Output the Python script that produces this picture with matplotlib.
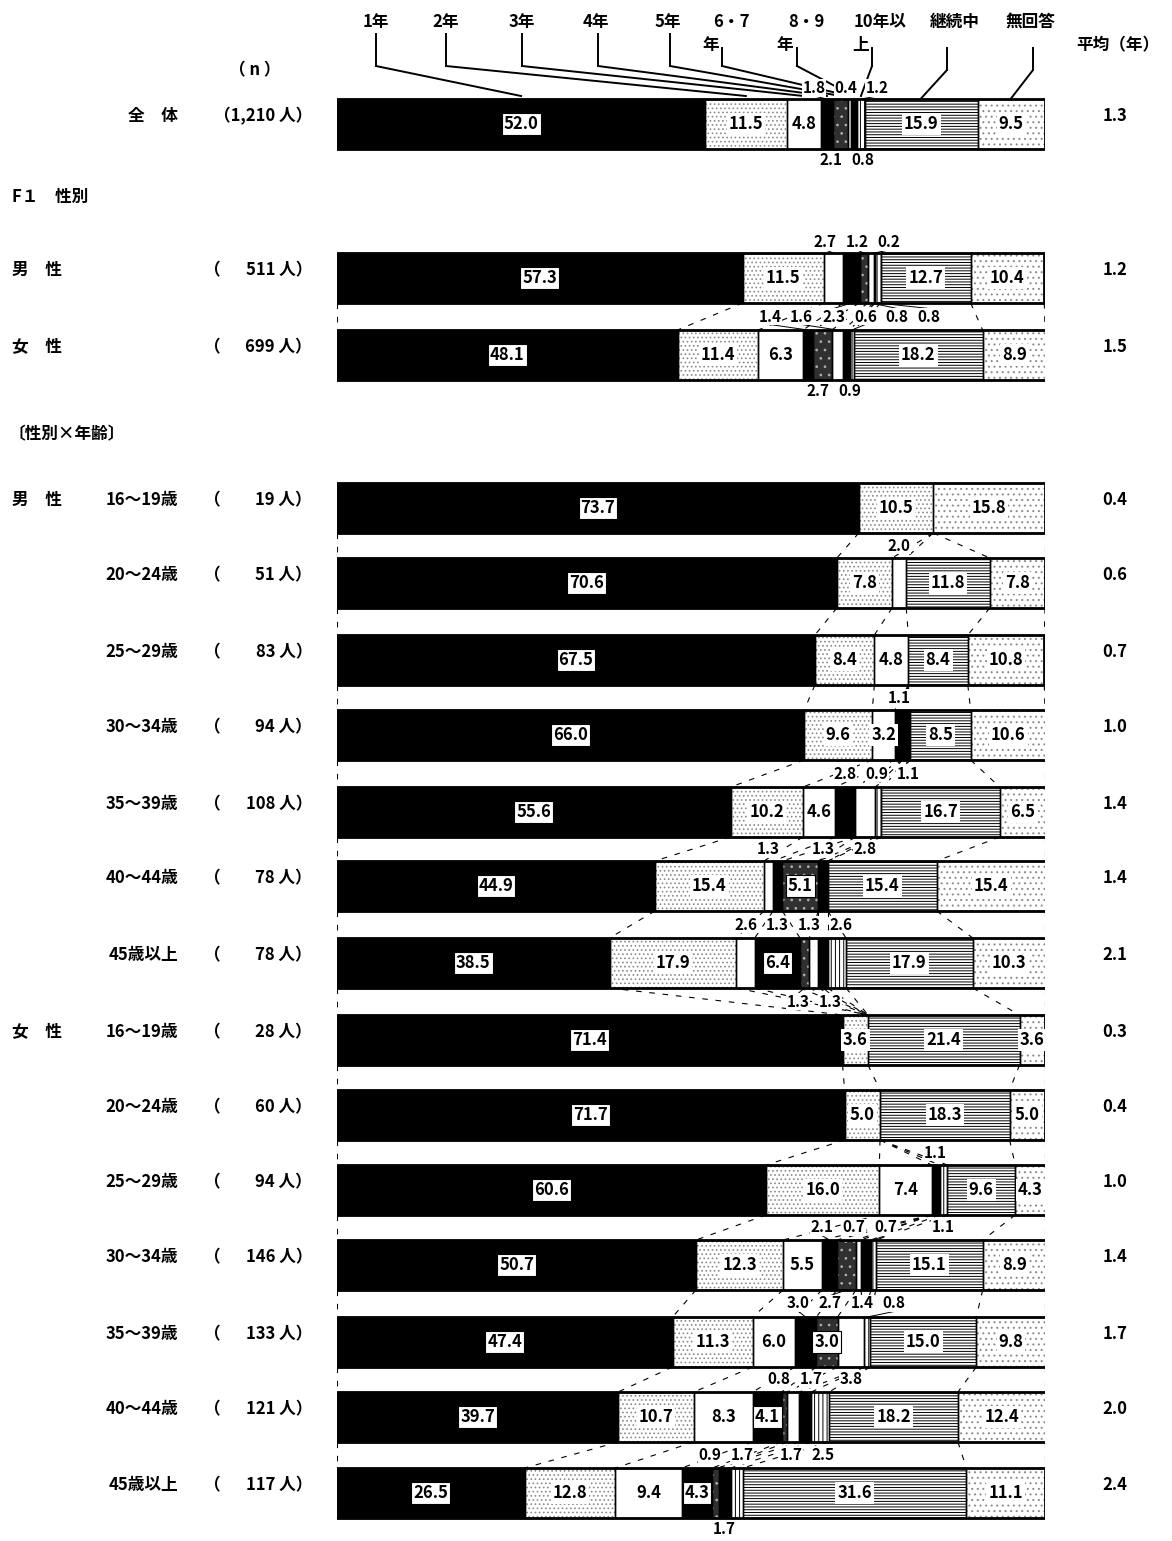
import matplotlib
matplotlib.use('Agg')
import matplotlib.pyplot as plt
import numpy as np
from collections import defaultdict

plt.rcParams['font.family'] = ['Noto Sans CJK JP', 'DejaVu Sans']
plt.rcParams['hatch.linewidth'] = 0.7

# ---------------- data ----------------
categories = ['1年', '2年', '3年', '4年', '5年', '6・7年', '8・9年', '10年以上', '継続中', '無回答']

zentai = [52.0, 11.5, 4.8, 1.8, 2.1, 0.4, 0.8, 1.2, 15.9, 9.5]
male = [57.3, 11.5, 2.7, 2.3, 1.2, 0.8, 0.2, 0.8, 12.7, 10.4]
female = [48.1, 11.4, 6.3, 1.4, 2.7, 1.6, 0.9, 0.6, 18.2, 8.9]
m_16_19 = [73.7, 10.5, 0, 0, 0, 0, 0, 0, 0, 15.8]
m_20_24 = [70.6, 7.8, 2.0, 0, 0, 0, 0, 0, 11.8, 7.8]
m_25_29 = [67.5, 8.4, 4.8, 0, 0, 0, 0, 0, 8.4, 10.8]
m_30_34 = [66.0, 9.6, 3.2, 1.1, 0, 0, 1.1, 0, 8.5, 10.6]
m_35_39 = [55.6, 10.2, 4.6, 2.8, 0, 2.8, 0, 0.9, 16.7, 6.5]
m_40_44 = [44.9, 15.4, 1.3, 1.3, 5.1, 0, 1.3, 0, 15.4, 15.4]
m_45 = [38.5, 17.9, 2.6, 6.4, 1.3, 1.3, 1.3, 2.6, 17.9, 10.3]
f_16_19 = [71.4, 3.6, 0, 0, 0, 0, 0, 0, 21.4, 3.6]
f_20_24 = [71.7, 5.0, 0, 0, 0, 0, 0, 0, 18.3, 5.0]
f_25_29 = [60.6, 16.0, 7.4, 0, 0, 0, 1.1, 1.1, 9.6, 4.3]
f_30_34 = [50.7, 12.3, 5.5, 2.1, 2.7, 0.7, 1.4, 0.7, 15.1, 8.9]
f_35_39 = [47.4, 11.3, 6.0, 3.0, 3.0, 3.8, 0, 0.8, 15.0, 9.8]
f_40_44 = [39.7, 10.7, 8.3, 4.1, 0.8, 1.7, 1.7, 2.5, 18.2, 12.4]
f_45 = [26.5, 12.8, 9.4, 4.3, 0.9, 0, 1.7, 1.7, 31.6, 11.1]

rows = [zentai, male, female, m_16_19, m_20_24, m_25_29, m_30_34, m_35_39, m_40_44, m_45,
        f_16_19, f_20_24, f_25_29, f_30_34, f_35_39, f_40_44, f_45]
group_labels = ['', '男　性', '女　性', '男　性', '', '', '', '', '', '', '女　性', '', '', '', '', '', '']
age_labels = ['全　体', '', '', '16～19歳', '20～24歳', '25～29歳', '30～34歳', '35～39歳', '40～44歳', '45歳以上',
              '16～19歳', '20～24歳', '25～29歳', '30～34歳', '35～39歳', '40～44歳', '45歳以上']
n_values = ['1,210', '511', '699', '19', '51', '83', '94', '108', '78', '78',
            '28', '60', '94', '146', '133', '121', '117']
averages = ['1.3', '1.2', '1.5', '0.4', '0.6', '0.7', '1.0', '1.4', '1.4', '2.1',
            '0.3', '0.4', '1.0', '1.4', '1.7', '2.0', '2.4']

# ---------------- layout ----------------
W, H = 1172, 1541
X0, BW = 337, 708
row_y = [124, 278, 355, 508, 583, 660, 735, 812, 886, 963, 1040, 1115, 1190, 1265, 1342, 1417, 1493]
BH = 50
connect_pairs = [(1, 2)] + [(i, i + 1) for i in range(3, 16)]

styles = [
    dict(fc='black', hatch=None, hc='black', dark=True),
    dict(fc='white', hatch='....', hc='#8a8a8a', dark=False),
    dict(fc='white', hatch=None, hc='white', dark=False),
    dict(fc='black', hatch=None, hc='black', dark=True),
    dict(fc='#303030', hatch='..', hc='#b0b0b0', dark=True),
    dict(fc='white', hatch=None, hc='white', dark=False),
    dict(fc='black', hatch=None, hc='black', dark=True),
    dict(fc='white', hatch='||||', hc='black', dark=False),
    dict(fc='white', hatch='------', hc='black', dark=False),
    dict(fc='white', hatch='...', hc='#8a8a8a', dark=False),
]

fig = plt.figure(figsize=(W / 100, H / 100), dpi=100)
ax = fig.add_axes([X0 / W, 0, BW / W, 1])
ax.set_xlim(0, 100)
ax.set_ylim(H, 0)
ax.axis('off')


def px(xp):
    return (xp - X0) / BW * 100


FS = 12
TXT = dict(fontsize=FS, fontweight='bold', color='black')

# connectors (dashed) between rows
for a, b in connect_pairs:
    ca = np.concatenate([[0], np.cumsum(rows[a])])
    cb = np.concatenate([[0], np.cumsum(rows[b])])
    for k in range(len(ca)):
        if 0 < k < len(ca) - 1 and rows[a][k - 1] == 0 and rows[b][k - 1] == 0:
            continue
        ax.plot([min(ca[k], 100), min(cb[k], 100)], [row_y[a] + BH / 2, row_y[b] - BH / 2],
                color='black', lw=0.8, ls=(0, (5, 7)), zorder=1)

gaps = defaultdict(list)

# bars
for r, vals in enumerate(rows):
    vals = np.array(vals, dtype=float)
    lefts = np.concatenate([[0], np.cumsum(vals)[:-1]])
    y = row_y[r]
    for c, (v, l) in enumerate(zip(vals, lefts)):
        if v <= 0:
            continue
        st = styles[c]
        ax.barh(y, v, left=l, height=BH, color=st['fc'], edgecolor=st['hc'],
                hatch=st['hatch'], linewidth=0, zorder=2)
        ax.barh(y, v, left=l, height=BH, fill=False, edgecolor='black', linewidth=1.0, zorder=3)
    ax.barh(y, vals.sum(), left=0, height=BH, fill=False, edgecolor='black', linewidth=2.0, zorder=4)

    small = []
    last_inside = -100.0
    for c, (v, l) in enumerate(zip(vals, lefts)):
        if v <= 0:
            continue
        mid = l + v / 2
        if v >= 3.0 and mid - last_inside >= 4.8:
            st = styles[c]
            if st['dark']:
                bb = dict(boxstyle='square,pad=0.12', fc='white', ec='black', lw=0.8)
            else:
                bb = dict(boxstyle='square,pad=0.12', fc='white', ec='none')
            ax.text(mid, y, f'{v:.1f}', ha='center', va='center', bbox=bb, zorder=6, **TXT)
            last_inside = mid
        else:
            small.append((mid, v))
    for i, (mid, v) in enumerate(small):
        if i % 2 == 0:
            key = ('g', r - 1) if r > 0 and row_y[r] - row_y[r - 1] < 100 else ('a', r)
            gaps[key].append((mid, v, y - BH / 2))
        else:
            key = ('g', r) if r + 1 < len(rows) and row_y[r + 1] - row_y[r] < 100 else ('b', r)
            gaps[key].append((mid, v, y + BH / 2))

    # left texts
    if group_labels[r]:
        ax.text(px(12), y - 8, group_labels[r], ha='left', va='center', clip_on=False, **TXT)
    if age_labels[r]:
        ax.text(px(178), y - 8, age_labels[r], ha='right', va='center', clip_on=False, **TXT)
    if r == 0:
        ax.text(px(312), y - 8, f'（{n_values[r]} 人）', ha='right', va='center', clip_on=False, **TXT)
    else:
        ax.text(px(212), y - 8, '（', ha='center', va='center', clip_on=False, **TXT)
        ax.text(px(312), y - 8, f'{n_values[r]} 人）', ha='right', va='center', clip_on=False, **TXT)
    ax.text(px(1115), y - 8, averages[r], ha='center', va='center', clip_on=False, **TXT)

# small value labels placed in the gaps between bars
SP = 4.5
for key, items in gaps.items():
    kind, r = key
    if kind == 'g':
        ly = (row_y[r] + BH / 2 + row_y[r + 1] - BH / 2) / 2
    elif kind == 'a':
        ly = row_y[r] - BH / 2 - 11
    else:
        ly = row_y[r] + BH / 2 + 11
    items = sorted(items, key=lambda t: t[0])
    xs = [t[0] for t in items]
    for _ in range(300):
        moved = False
        for i in range(len(xs) - 1):
            d = xs[i + 1] - xs[i]
            if d < SP:
                s = (SP - d) / 2
                xs[i] -= s
                xs[i + 1] += s
                moved = True
        if not moved:
            break
    for (mid, v, edge), x in zip(items, xs):
        ax.text(x, ly, f'{v:.1f}', ha='center', va='center', zorder=8, fontsize=11,
                fontweight='bold', bbox=dict(boxstyle='square,pad=0.05', fc='white', ec='none'))
        sy = ly - 8 if edge < ly else ly + 8
        if abs(x - mid) > 0.8:
            ax.plot([x, mid], [sy, edge], color='black', lw=0.7, zorder=7)

# section headings
ax.text(px(12), 197, 'F１　性別', ha='left', va='center', clip_on=False, **TXT)
ax.text(px(8), 434, '〔性別×年齢〕', ha='left', va='center', clip_on=False, **TXT)
ax.text(px(255), 70, '（ n ）', ha='center', va='center', clip_on=False, **TXT)
ax.text(px(1118), 45, '平均（年）', ha='center', va='center', clip_on=False, **TXT)

# header legend with leader lines to the 全体 bar
hdr_x = [376, 446, 522, 596, 668, 731, 806, 880, 955, 1031]
hdr_l1 = ['1年', '2年', '3年', '4年', '5年', '6・7', '8・9', '10年以', '継続中', '無回答']
hdr_l2 = ['', '', '', '', '', '年', '年', '上', '', '']
hdr_l2x = [0, 0, 0, 0, 0, 711, 785, 861, 0, 0]
hdr_vx = [376, 446, 522, 598, 670, 722, 797, 872, 947, 1033]
z_cum = np.cumsum(zentai)
z_mid = z_cum - np.array(zentai) / 2
top0 = row_y[0] - BH / 2
for i in range(len(categories)):
    ax.text(px(hdr_x[i]), 22, hdr_l1[i], ha='center', va='center', clip_on=False, **TXT)
    vx = px(hdr_vx[i])
    if hdr_l2[i]:
        ax.text(px(hdr_l2x[i]), 45, hdr_l2[i], ha='center', va='center', clip_on=False, **TXT)
        ax.plot([vx, vx], [48, 66], color='black', lw=1.4, clip_on=False)
        ax.plot([vx, z_mid[i]], [66, top0 - 3], color='black', lw=1.4, clip_on=False)
    elif i < 8:
        ax.plot([vx, vx], [34, 66], color='black', lw=1.4, clip_on=False)
        ax.plot([vx, z_mid[i]], [66, top0 - 3], color='black', lw=1.4, clip_on=False)
    else:
        ax.plot([vx, vx], [48, 70], color='black', lw=1.4, clip_on=False)
        ax.plot([vx, z_mid[i]], [70, top0 - 1], color='black', lw=1.4, clip_on=False)

fig.savefig('out.png', dpi=100, facecolor='white')
